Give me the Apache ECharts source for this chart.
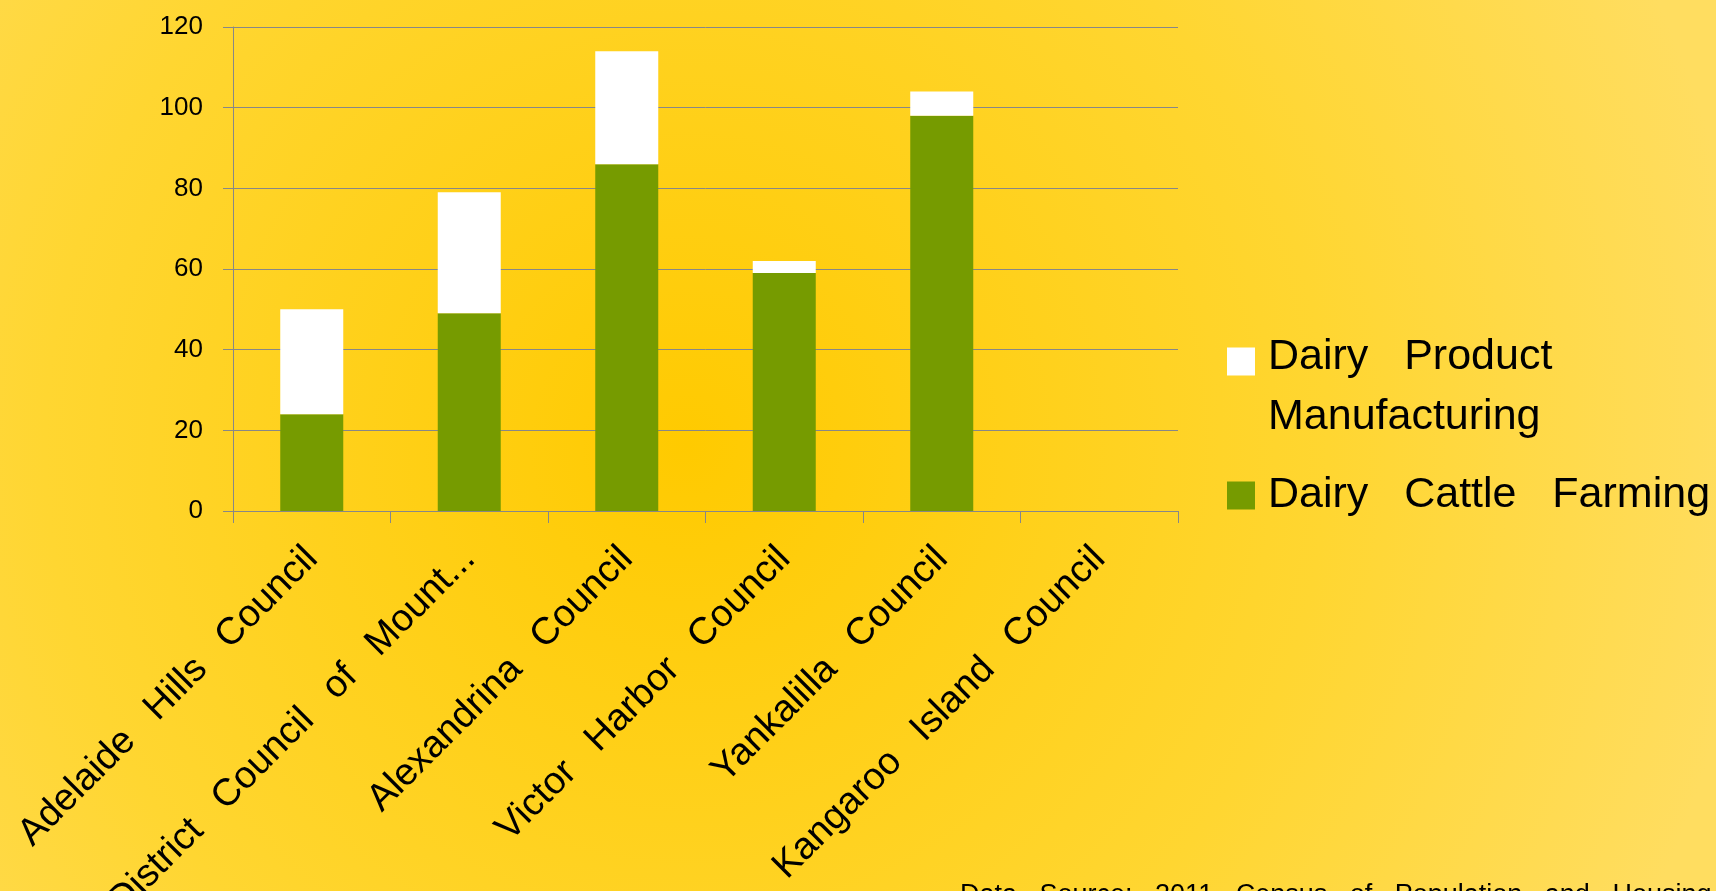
<!DOCTYPE html>
<html>
<head>
<meta charset="utf-8">
<script src="https://cdn.jsdelivr.net/npm/echarts@6/dist/echarts.min.js"></script>
<style>
html,body{margin:0;padding:0;width:1716px;height:891px;overflow:hidden;}
#chart{width:1716px;height:891px;}
</style>
</head>
<body>
<div id="chart"></div>
<script>
const categories = ['Adelaide Hills Council', 'District Council of Mount...', 'Alexandrina Council', 'Victor Harbor Council', 'Yankalilla Council', 'Kangaroo Island Council'];
const dairyCattleFarming = [24, 49, 86, 59, 98, 0];
const dairyProductManufacturing = [26, 30, 28, 3, 6, 0];
const yTicks = { min: 0, max: 120, interval: 20 };
const sourceNote = 'Data Source: 2011 Census of Population and Housing';

const FONT = "'Liberation Sans', Arial, sans-serif";
const GRAY = '#878787';
const spaced = (s, gap) => s.split(' ').join(gap);

const legendRich = {
  t: { fontSize: 43, lineHeight: 60, color: '#000', fontFamily: FONT },
  s: { fontSize: 1, lineHeight: 52 }
};

const chart = echarts.init(document.getElementById('chart'), null, { renderer: 'canvas' });
const option = {
  animation: false,
  backgroundColor: {
    type: 'radial', x: 0.4, y: 0.5, r: 1.2,
    colorStops: [
      { offset: 0, color: '#FFCA00' },
      { offset: 0.6, color: '#FFD631' },
      { offset: 1, color: '#FFDD60' }
    ]
  },
  textStyle: { fontFamily: FONT },
  grid: { left: 233, right: 538, top: 27, bottom: 380, containLabel: false, outerBoundsMode: 'none' },
  xAxis: {
    type: 'category',
    data: categories,
    axisLine: { lineStyle: { color: GRAY, width: 1 } },
    axisTick: { show: true, length: 12, lineStyle: { color: GRAY } },
    axisLabel: {
      rotate: 45, interval: 0, fontSize: 38, color: '#000', margin: 42,
      fontFamily: FONT,
      formatter: v => spaced(v, ' \u2002')
    }
  },
  yAxis: {
    type: 'value',
    min: yTicks.min, max: yTicks.max, interval: yTicks.interval,
    axisLine: { show: true, lineStyle: { color: GRAY, width: 1 } },
    axisTick: { show: true, length: 10, lineStyle: { color: GRAY } },
    splitLine: { show: true, lineStyle: { color: GRAY, width: 1 } },
    axisLabel: { fontSize: 26, color: '#000', margin: 30, fontFamily: FONT }
  },
  legend: [
    {
      data: ['Dairy Product Manufacturing'],
      orient: 'vertical', left: 1227, top: 301, padding: 0,
      icon: 'rect', itemWidth: 28, itemHeight: 28, selectedMode: false,
      formatter: () => '{s| }\n{t|Dairy   Product}\n{t|Manufacturing}',
      textStyle: { fontSize: 43, color: '#000', fontFamily: FONT, padding: [0, 0, 0, 8], rich: legendRich }
    },
    {
      data: ['Dairy Cattle Farming'],
      orient: 'vertical', left: 1227, top: 474, padding: 0,
      icon: 'rect', itemWidth: 28, itemHeight: 28, selectedMode: false,
      formatter: n => '{t|' + spaced(n, '   ') + '}',
      textStyle: { fontSize: 43, color: '#000', fontFamily: FONT, padding: [0, 0, 0, 8], rich: legendRich }
    }
  ],
  series: [
    {
      name: 'Dairy Cattle Farming', type: 'bar', stack: 'total',
      data: dairyCattleFarming, barWidth: '40%',
      itemStyle: { color: '#769B00' }
    },
    {
      name: 'Dairy Product Manufacturing', type: 'bar', stack: 'total',
      data: dairyProductManufacturing, barWidth: '40%',
      itemStyle: { color: '#FFFFFF' }
    }
  ],
  graphic: [
    {
      type: 'text', x: 960, y: 896, silent: true,
      style: { text: spaced(sourceNote, '   '), fontSize: 27, fontFamily: FONT, fill: '#000', verticalAlign: 'middle' }
    }
  ]
};
chart.setOption(option);
</script>
</body>
</html>
